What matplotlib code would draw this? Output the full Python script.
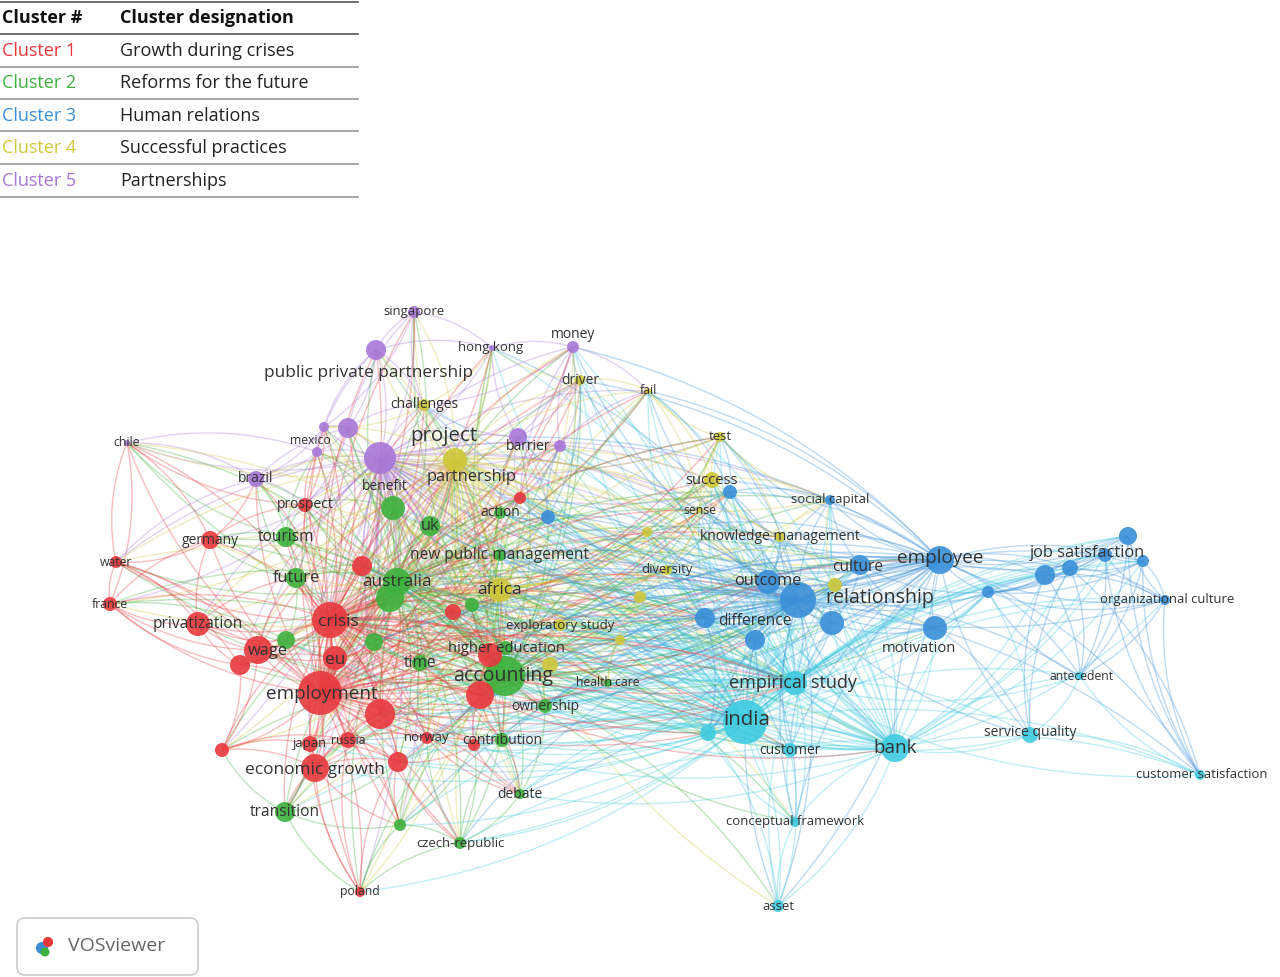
import numpy as np
import matplotlib
matplotlib.use("Agg")
import matplotlib.pyplot as plt
from matplotlib.collections import LineCollection
from matplotlib.patches import FancyBboxPatch

plt.rcParams['font.family'] = ['Open Sans', 'DejaVu Sans']

# ---- legend table data ----
cluster_names = ["Cluster 1", "Cluster 2", "Cluster 3", "Cluster 4", "Cluster 5"]
cluster_designations = ["Growth during crises", "Reforms for the future", "Human relations",
                        "Successful practices", "Partnerships"]
cluster_colors = {1: "#e8383d", 2: "#3db13d", 3: "#3a8fd8", 4: "#cfc83a", 5: "#a877d8", 6: "#3fcbe0"}
table_colors = ["#e8383d", "#3db13d", "#3a8fd8", "#cfc83a", "#a877d8"]

# ---- network nodes ----
labels = ["singapore", "hong kong", "money", "public private partnership", "project", "mexico", "chile",
          "brazil", "barrier", "", "", "",
          "challenges", "driver", "fail", "partnership", "success", "test", "sense", "diversity",
          "knowledge management", "africa", "exploratory study", "", "", "", "", "",
          "tourism", "uk", "benefit", "future", "australia", "new public management", "action",
          "higher education", "time", "accounting", "contribution", "debate", "transition",
          "czech-republic", "ownership", "health care", "", "", "", "", "",
          "crisis", "eu", "wage", "employment", "privatization", "germany", "water", "france",
          "prospect", "economic growth", "japan", "russia", "norway", "poland", "", "", "", "", "",
          "", "", "", "", "",
          "employee", "relationship", "outcome", "culture", "job satisfaction", "organizational culture",
          "difference", "motivation", "social capital", "", "", "", "", "", "", "", "", "",
          "india", "bank", "empirical study", "customer", "antecedent", "service quality",
          "customer satisfaction", "conceptual framework", "asset", ""]
xs = [414, 492, 573, 376, 380, 317, 127, 256, 518, 348, 324, 560,
      424, 580, 648, 455, 712, 720, 700, 667, 780, 500, 560, 620, 550, 835, 640, 647,
      286, 430, 393, 296, 397, 500, 500, 506, 420, 505, 502, 520, 285, 460, 545, 608, 286, 374, 390, 472, 400,
      330, 335, 258, 320, 198, 210, 116, 110, 305, 315, 310, 348, 427, 360, 380, 480, 490, 362, 240,
      222, 398, 453, 520, 474,
      940, 798, 768, 860, 1045, 1165, 705, 935, 830, 1128, 1070, 1105, 1143, 988, 832, 755, 548, 730,
      745, 895, 795, 790, 1080, 1030, 1200, 795, 778, 708]
ys = [312, 348, 347, 350, 458, 452, 443, 479, 437, 428, 427, 446,
      405, 380, 391, 460, 480, 437, 510, 570, 537, 590, 625, 640, 665, 585, 597, 532,
      537, 526, 508, 578, 582, 555, 513, 648, 663, 676, 740, 794, 812, 843, 706, 683, 640, 642, 598, 605, 825,
      620, 658, 650, 693, 624, 540, 562, 604, 505, 768, 744, 740, 738, 892, 714, 695, 655, 566, 665,
      750, 762, 612, 498, 745,
      560, 600, 582, 565, 575, 600, 618, 628, 500, 536, 568, 555, 561, 592, 623, 640, 517, 492,
      722, 748, 683, 750, 676, 735, 775, 822, 906, 733]
rs = [6, 3, 6, 10, 16, 5, 3, 8, 9, 10, 5, 6,
      6, 5, 3, 12, 8, 5, 3, 5, 5, 12, 6, 5, 8, 7, 6, 5,
      10, 10, 12, 10, 14, 6, 6, 7, 8, 20, 7, 5, 10, 6, 7, 4, 9, 9, 14, 7, 6,
      18, 12, 14, 22, 12, 9, 6, 7, 7, 14, 8, 8, 6, 5, 15, 14, 12, 10, 10,
      7, 10, 8, 6, 6,
      14, 18, 12, 10, 10, 5, 10, 12, 5, 9, 8, 7, 6, 6, 12, 10, 7, 7,
      22, 14, 12, 7, 4, 8, 5, 5, 6, 8]
clusters = [5] * 12 + [4] * 16 + [2] * 21 + [1] * 24 + [3] * 18 + [6] * 10
fontsizes = [8, 8, 8.5, 10.5, 12.5, 7.5, 7.5, 8.5, 8.5, 0, 0, 0,
             8.5, 8.5, 7.5, 10, 9, 8, 7.5, 8, 8.5, 10.5, 8, 0, 0, 0, 0, 0,
             9.5, 10, 8.5, 10, 10.5, 9.5, 8.5, 9, 9.5, 12, 8.5, 8.5, 9.5, 8, 8.5, 7.5, 0, 0, 0, 0, 0,
             10.5, 10.5, 10, 11.5, 9.5, 8.5, 7.5, 7.5, 8.5, 10.5, 8, 7.5, 8, 7.5, 0, 0, 0, 0, 0,
             0, 0, 0, 0, 0,
             11.5, 12, 10, 9.5, 10, 8, 9.5, 9, 8, 0, 0, 0, 0, 0, 0, 0, 0, 0,
             12.5, 11.5, 11, 8.5, 7.5, 8.5, 8, 8, 8, 0]
hubs = ["project", "partnership", "accounting", "crisis", "employment", "australia", "relationship",
        "employee", "india", "bank", "africa", "empirical study"]

# label placement tweaks (layout)
label_pos = {"project": (444, 436), "public private partnership": (369, 373), "partnership": (472, 477),
             "benefit": (385, 486), "accounting": (503, 676), "relationship": (880, 598),
             "employee": (940, 558), "job satisfaction": (1088, 553), "india": (747, 720),
             "empirical study": (793, 683), "hong kong": (491, 348), "money": (573, 335),
             "outcome": (768, 581), "culture": (858, 567), "economic growth": (315, 770),
             "wage": (268, 651), "crisis": (338, 622), "employment": (322, 694), "eu": (335, 660),
             "barrier": (528, 447), "mexico": (310, 441), "uk": (430, 526), "motivation": (919, 648),
             "difference": (755, 621), "organizational culture": (1167, 600), "job_": (0, 0),
             "bank": (895, 748), "customer": (790, 751), "antecedent": (1082, 676),
             "service quality": (1030, 733), "customer satisfaction": (1202, 774)}

fig = plt.figure(figsize=(12.8, 9.77), dpi=100)
ax = fig.add_axes([0, 0, 1, 1])
ax.set_xlim(0, 1280)
ax.set_ylim(977, 0)
ax.axis("off")

xs_a = np.array(xs, float); ys_a = np.array(ys, float)
n = len(xs)
idx = {l: i for i, l in enumerate(labels) if l}
hub_idx = [idx[h] for h in hubs]

edges = set()
for i in range(n):
    d = np.hypot(xs_a - xs_a[i], ys_a - ys_a[i])
    order = np.argsort(d)
    for j in order[1:8]:
        edges.add((min(i, j), max(i, j)))
    for h in hub_idx:
        if h != i and (d[h] < 480 or clusters[i] == clusters[h]):
            edges.add((min(i, h), max(i, h)))

segs, cols = [], []
t = np.linspace(0, 1, 30)[:, None]
for k, (i, j) in enumerate(sorted(edges)):
    p0 = np.array([xs_a[i], ys_a[i]]); p1 = np.array([xs_a[j], ys_a[j]])
    v = p1 - p0
    perp = np.array([-v[1], v[0]]) * (0.15 if k % 2 else -0.15)
    c = (p0 + p1) / 2 + perp
    pts = (1 - t) ** 2 * p0 + 2 * (1 - t) * t * c + t ** 2 * p1
    segs.append(pts)
    ci = clusters[i] if rs[i] >= rs[j] else clusters[j]
    cols.append(matplotlib.colors.to_rgba(cluster_colors[ci], 0.33))
ax.add_collection(LineCollection(segs, colors=cols, linewidths=1.0, zorder=1))

ax.scatter(xs_a, ys_a, s=(1.44 * np.array(rs)) ** 2,
           c=[cluster_colors[c] for c in clusters], alpha=0.9, linewidths=0, zorder=2)
for l, x, y, fs in zip(labels, xs, ys, fontsizes):
    if l:
        px, py = label_pos.get(l, (x, y))
        ax.text(px, py, l, fontsize=fs * 1.18, color="#333333", ha="center", va="center", zorder=3)

# ---- table ----
row_y = [18, 51, 83, 116, 148, 181]
line_y = [2, 34, 67, 99, 131, 164, 197]
for ly in line_y:
    ax.plot([0, 358], [ly, ly], color="#555555" if ly in (2, 34) else "#999999", lw=1.2, zorder=4)
ax.text(2, row_y[0], "Cluster #", fontsize=13, fontweight="bold", ha="left", va="center", color="#111111")
ax.text(120, row_y[0], "Cluster designation", fontsize=13, fontweight="bold", ha="left", va="center", color="#111111")
for k in range(5):
    ax.text(2, row_y[k + 1], cluster_names[k], fontsize=13, ha="left", va="center", color=table_colors[k])
    ax.text(120, row_y[k + 1], cluster_designations[k], fontsize=13, ha="left", va="center", color="#222222")

# ---- VOSviewer logo ----
ax.add_patch(FancyBboxPatch((17, 918), 181, 57, boxstyle="round,pad=0,rounding_size=8",
                            fc="white", ec="#cccccc", lw=1.2, zorder=4))
ax.scatter([42, 48, 45], [948, 942, 952], s=[60, 40, 30], c=["#3a8fd8", "#e8383d", "#3db13d"], zorder=5)
ax.text(68, 946, "VOSviewer", fontsize=14, color="#666666", ha="left", va="center", zorder=5)

fig.savefig("out.png", dpi=100)
